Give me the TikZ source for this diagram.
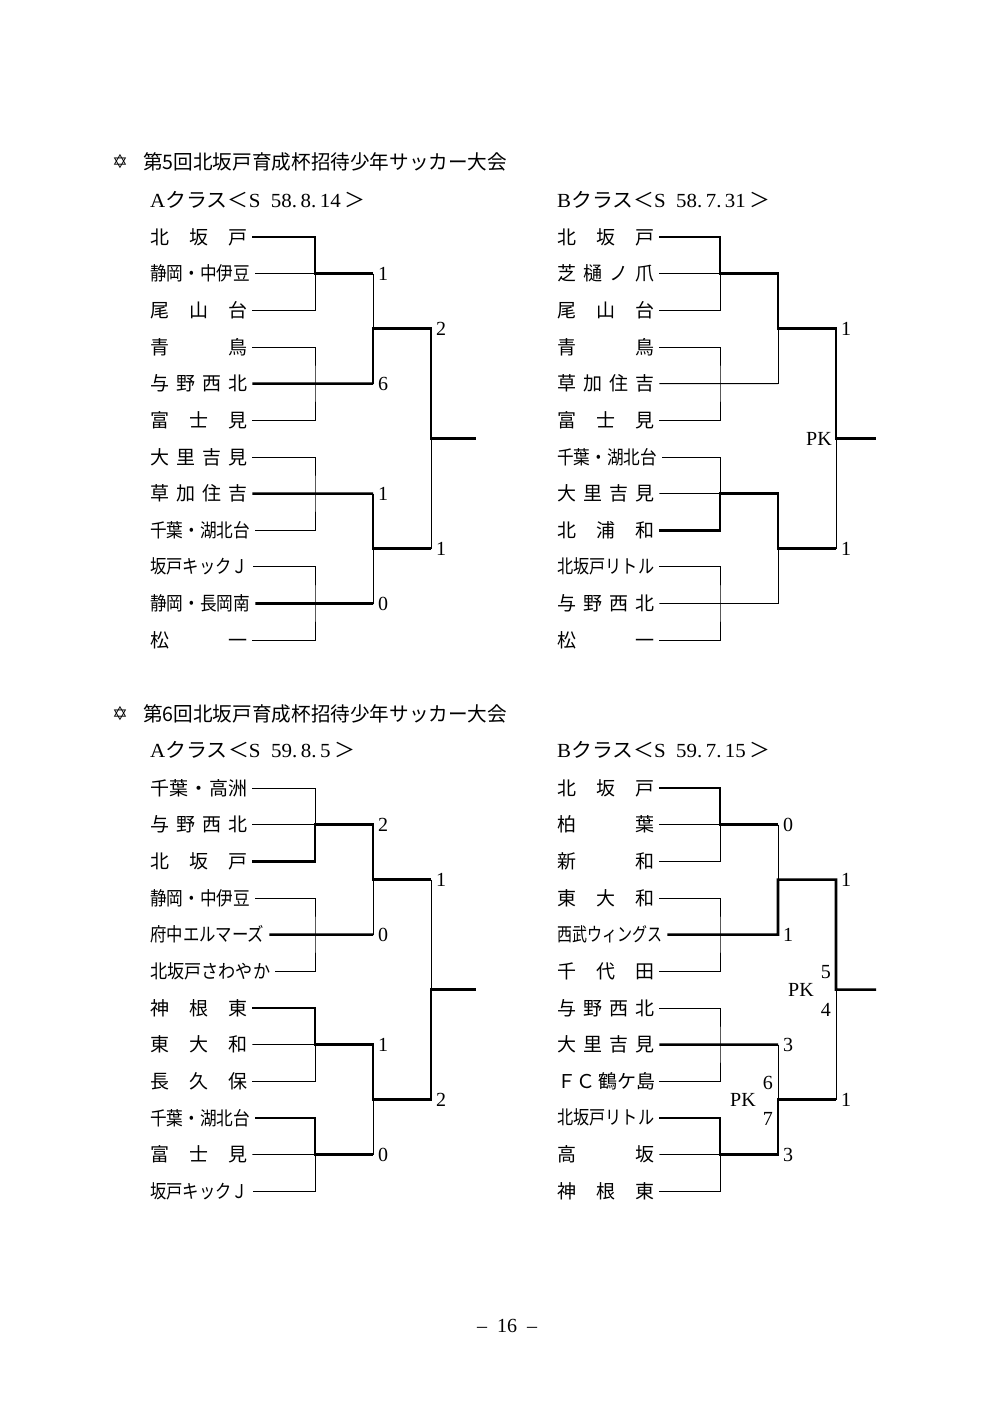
\documentclass[tikz,border=0pt]{standalone}
\usepackage{fontspec}
\usepackage{graphicx}
\setmainfont{Liberation Serif}
\newfontfamily\jp{Noto Sans CJK JP}
\newfontfamily\djv{DejaVu Sans}
\newcommand{\spr}[1]{\makebox[97pt][s]{#1}}
\newcommand{\fitw}[2]{\resizebox{#1}{\height}{#2}}
% block coordinates: #1 prefix, #2 g, #3 s, #4 f, #5 e, #6 first row y
\newcommand{\mkco}[6]{%
  \coordinate (#1g1) at (#2,#6+36.65);
  \coordinate (#1g2) at (#2,#6+146.6);
  \coordinate (#1g3) at (#2,#6+256.55);
  \coordinate (#1g4) at (#2,#6+366.5);
  \coordinate (#1s1) at (#3,#6+36.65);
  \coordinate (#1s2) at (#3,#6+146.6);
  \coordinate (#1s3) at (#3,#6+256.55);
  \coordinate (#1s4) at (#3,#6+366.5);
  \coordinate (#1t) at (#3,#6+91.625);
  \coordinate (#1b) at (#3,#6+311.575);
  \coordinate (#1ft) at (#4,#6+91.625);
  \coordinate (#1fb) at (#4,#6+311.575);
  \coordinate (#1f) at (#4,#6+201.6);
  \coordinate (#1e) at (#5,#6+201.6);
}
\begin{document}
\begin{tikzpicture}[x=1pt,y=-1pt,
  team/.style={anchor=west,inner sep=0pt,font=\jp\fontsize{19}{21}\selectfont},
  sc/.style={anchor=west,inner sep=0pt,font=\fontsize{20}{21}\selectfont},
  pk/.style={anchor=east,inner sep=0pt,font=\fontsize{20}{21}\selectfont},
  hd/.style={anchor=west,inner sep=0pt,font=\fontsize{20}{21}\selectfont},
  thn/.style={line width=0.8pt},
  thk/.style={line width=2.6pt}]
\path[use as bounding box,fill=white] (0,0) rectangle (1000,1408);

% ---------------- headers ----------------
\node[hd] (star1) at (112,162) {\djv\fontsize{19}{20}\selectfont ✡};
\node[hd] (title1) at (143,162) {\jp\fontsize{20}{22}\selectfont\fitw{364pt}{第5回北坂戸育成杯招待少年サッカー大会}};
\node[hd] (clsA5) at (150,200) {\fitw{215pt}{A{\jp クラス＜}S\ \ 58.\,8.\,14\,{\jp ＞}}};
\node[hd] (clsB5) at (557,200) {\fitw{213pt}{B{\jp クラス＜}S\ \ 58.\,7.\,31\,{\jp ＞}}};
\node[hd] (star2) at (112,714) {\djv\fontsize{19}{20}\selectfont ✡};
\node[hd] (title2) at (143,714) {\jp\fontsize{20}{22}\selectfont\fitw{364pt}{第6回北坂戸育成杯招待少年サッカー大会}};
\node[hd] (clsA6) at (150,750) {\fitw{205pt}{A{\jp クラス＜}S\ \ 59.\,8.\,5\,{\jp ＞}}};
\node[hd] (clsB6) at (557,750) {\fitw{213pt}{B{\jp クラス＜}S\ \ 59.\,7.\,15\,{\jp ＞}}};
\node[inner sep=0pt,font=\fontsize{20}{21}\selectfont] (pgno) at (507,1326) {–\ \ 16\ \ –};

% ---------------- coordinates ----------------
\mkco{A5}{315}{373}{431}{476}{237}
\mkco{B5}{720}{778}{836}{876}{237}
\mkco{A6}{315}{373}{431}{476}{788}
\mkco{B6}{720}{778}{836}{876}{788}

% ---------------- A5 teams ----------------
\node[team] (a1) at (150,237+0*36.65) {\spr{北\hfill 坂\hfill 戸}};
\node[team] (a2) at (150,237+1*36.65) {\fitw{100pt}{静岡・中伊豆}};
\node[team] (a3) at (150,237+2*36.65) {\spr{尾\hfill 山\hfill 台}};
\node[team] (a4) at (150,237+3*36.65) {\spr{青\hfill 鳥}};
\node[team] (a5) at (150,237+4*36.65) {\spr{与\hfill 野\hfill 西\hfill 北}};
\node[team] (a6) at (150,237+5*36.65) {\spr{富\hfill 士\hfill 見}};
\node[team] (a7) at (150,237+6*36.65) {\spr{大\hfill 里\hfill 吉\hfill 見}};
\node[team] (a8) at (150,237+7*36.65) {\spr{草\hfill 加\hfill 住\hfill 吉}};
\node[team] (a9) at (150,237+8*36.65) {\fitw{100pt}{千葉・湖北台}};
\node[team] (a10) at (150,237+9*36.65) {\fitw{98pt}{坂戸キックＪ}};
\node[team] (a11) at (150,237+10*36.65) {\fitw{100pt}{静岡・長岡南}};
\node[team] (a12) at (150,237+11*36.65) {\spr{松\hfill 一}};

% ---------------- B5 teams ----------------
\node[team] (b1) at (557,237+0*36.65) {\spr{北\hfill 坂\hfill 戸}};
\node[team] (b2) at (557,237+1*36.65) {\spr{芝\hfill 樋\hfill ノ\hfill 爪}};
\node[team] (b3) at (557,237+2*36.65) {\spr{尾\hfill 山\hfill 台}};
\node[team] (b4) at (557,237+3*36.65) {\spr{青\hfill 鳥}};
\node[team] (b5) at (557,237+4*36.65) {\spr{草\hfill 加\hfill 住\hfill 吉}};
\node[team] (b6) at (557,237+5*36.65) {\spr{富\hfill 士\hfill 見}};
\node[team] (b7) at (557,237+6*36.65) {\fitw{100pt}{千葉・湖北台}};
\node[team] (b8) at (557,237+7*36.65) {\spr{大\hfill 里\hfill 吉\hfill 見}};
\node[team] (b9) at (557,237+8*36.65) {\spr{北\hfill 浦\hfill 和}};
\node[team] (b10) at (557,237+9*36.65) {\fitw{97pt}{北坂戸リトル}};
\node[team] (b11) at (557,237+10*36.65) {\spr{与\hfill 野\hfill 西\hfill 北}};
\node[team] (b12) at (557,237+11*36.65) {\spr{松\hfill 一}};

% ---------------- A6 teams ----------------
\node[team] (c1) at (150,788+0*36.65) {\spr{千葉\hfill ・\hfill 高洲}};
\node[team] (c2) at (150,788+1*36.65) {\spr{与\hfill 野\hfill 西\hfill 北}};
\node[team] (c3) at (150,788+2*36.65) {\spr{北\hfill 坂\hfill 戸}};
\node[team] (c4) at (150,788+3*36.65) {\fitw{100pt}{静岡・中伊豆}};
\node[team] (c5) at (150,788+4*36.65) {\fitw{114pt}{府中エルマーズ}};
\node[team] (c6) at (150,788+5*36.65) {\fitw{120pt}{北坂戸さわやか}};
\node[team] (c7) at (150,788+6*36.65) {\spr{神\hfill 根\hfill 東}};
\node[team] (c8) at (150,788+7*36.65) {\spr{東\hfill 大\hfill 和}};
\node[team] (c9) at (150,788+8*36.65) {\spr{長\hfill 久\hfill 保}};
\node[team] (c10) at (150,788+9*36.65) {\fitw{100pt}{千葉・湖北台}};
\node[team] (c11) at (150,788+10*36.65) {\spr{富\hfill 士\hfill 見}};
\node[team] (c12) at (150,788+11*36.65) {\fitw{98pt}{坂戸キックＪ}};

% ---------------- B6 teams ----------------
\node[team] (d1) at (557,788+0*36.65) {\spr{北\hfill 坂\hfill 戸}};
\node[team] (d2) at (557,788+1*36.65) {\spr{柏\hfill 葉}};
\node[team] (d3) at (557,788+2*36.65) {\spr{新\hfill 和}};
\node[team] (d4) at (557,788+3*36.65) {\spr{東\hfill 大\hfill 和}};
\node[team] (d5) at (557,788+4*36.65) {\fitw{105pt}{西武ウィングス}};
\node[team] (d6) at (557,788+5*36.65) {\spr{千\hfill 代\hfill 田}};
\node[team] (d7) at (557,788+6*36.65) {\spr{与\hfill 野\hfill 西\hfill 北}};
\node[team] (d8) at (557,788+7*36.65) {\spr{大\hfill 里\hfill 吉\hfill 見}};
\node[team] (d9) at (557,788+8*36.65) {\spr{Ｆ\hfill Ｃ\,鶴ケ島}};
\node[team] (d10) at (557,788+9*36.65) {\fitw{97pt}{北坂戸リトル}};
\node[team] (d11) at (557,788+10*36.65) {\spr{高\hfill 坂}};
\node[team] (d12) at (557,788+11*36.65) {\spr{神\hfill 根\hfill 東}};

% ================= A5 lines =================
\draw[thn] ([xshift=5pt]a2.east) -- (A5g1);
\draw[thn] ([xshift=5pt]a3.east) -| (A5g1);
\draw[thn] ([xshift=5pt]a4.east) -| (A5g2) |- ([xshift=5pt]a6.east);
\draw[thn] ([xshift=5pt]a7.east) -| (A5g3) |- ([xshift=5pt]a9.east);
\draw[thn] ([xshift=5pt]a10.east) -| (A5g4) |- ([xshift=5pt]a12.east);
\draw[thn] (A5s1) -- (A5t);
\draw[thn] (A5s4) -- (A5b);
\draw[thn] (A5fb) -- (A5f);
\draw[thk] ([xshift=5pt]a1.east) -| (A5g1) -- (A5s1);
\draw[thk] ([xshift=5pt]a5.east) -- (A5s2);
\draw[thk] ([xshift=5pt]a8.east) -- (A5s3);
\draw[thk] ([xshift=5pt]a11.east) -- (A5s4);
\draw[thk] (A5s2) -- (A5t) -- (A5ft) -- (A5f) -- (A5e);
\draw[thk] (A5s3) -- (A5b) -- (A5fb);
\node[sc] (A5n1) at ([xshift=5pt]A5s1) {1};
\node[sc] (A5n2) at ([xshift=5pt]A5s2) {6};
\node[sc] (A5n3) at ([xshift=5pt]A5s3) {1};
\node[sc] (A5n4) at ([xshift=5pt]A5s4) {0};
\node[sc] (A5n5) at ([xshift=5pt]A5ft) {2};
\node[sc] (A5n6) at ([xshift=5pt]A5fb) {1};

% ================= B5 lines =================
\draw[thn] ([xshift=5pt]b2.east) -- (B5g1);
\draw[thn] ([xshift=5pt]b3.east) -| (B5g1);
\draw[thn] ([xshift=5pt]b4.east) -| (B5g2) |- ([xshift=5pt]b6.east);
\draw[thn] ([xshift=5pt]b5.east) -- (B5s2);
\draw[thn] ([xshift=5pt]b7.east) -| (B5g3);
\draw[thn] ([xshift=5pt]b8.east) -- (B5g3);
\draw[thn] ([xshift=5pt]b10.east) -| (B5g4) |- ([xshift=5pt]b12.east);
\draw[thn] ([xshift=5pt]b11.east) -- (B5s4);
\draw[thn] (B5s2) -- (B5t);
\draw[thn] (B5s4) -- (B5b);
\draw[thn] (B5fb) -- (B5f);
\draw[thk] ([xshift=5pt]b1.east) -| (B5g1) -- (B5s1) -- (B5t) -- (B5ft) -- (B5f) -- (B5e);
\draw[thk] ([xshift=5pt]b9.east) -| (B5g3) -- (B5s3) -- (B5b) -- (B5fb);
\node[sc] (B5n5) at ([xshift=5pt]B5ft) {1};
\node[sc] (B5n6) at ([xshift=5pt]B5fb) {1};
\node[pk] (B5pk) at ([xshift=-4pt]B5f) {PK};

% ================= A6 lines =================
\draw[thn] ([xshift=5pt]c1.east) -| (A6g1);
\draw[thn] ([xshift=5pt]c2.east) -- (A6g1);
\draw[thn] ([xshift=5pt]c4.east) -| (A6g2) |- ([xshift=5pt]c6.east);
\draw[thn] ([xshift=5pt]c8.east) -- (A6g3);
\draw[thn] ([xshift=5pt]c9.east) -| (A6g3);
\draw[thn] ([xshift=5pt]c11.east) -- (A6g4);
\draw[thn] ([xshift=5pt]c12.east) -| (A6g4);
\draw[thn] (A6s2) -- (A6t);
\draw[thn] (A6s4) -- (A6b);
\draw[thn] (A6ft) -- (A6f);
\draw[thk] ([xshift=5pt]c3.east) -| (A6g1) -- (A6s1) -- (A6t) -- (A6ft);
\draw[thk] ([xshift=5pt]c5.east) -- (A6s2);
\draw[thk] ([xshift=5pt]c7.east) -| (A6g3) -- (A6s3) -- (A6b) -- (A6fb) -- (A6f) -- (A6e);
\draw[thk] ([xshift=5pt]c10.east) -| (A6g4) -- (A6s4);
\node[sc] (A6n1) at ([xshift=5pt]A6s1) {2};
\node[sc] (A6n2) at ([xshift=5pt]A6s2) {0};
\node[sc] (A6n3) at ([xshift=5pt]A6s3) {1};
\node[sc] (A6n4) at ([xshift=5pt]A6s4) {0};
\node[sc] (A6n5) at ([xshift=5pt]A6ft) {1};
\node[sc] (A6n6) at ([xshift=5pt]A6fb) {2};

% ================= B6 lines =================
\draw[thn] ([xshift=5pt]d2.east) -- (B6g1);
\draw[thn] ([xshift=5pt]d3.east) -| (B6g1);
\draw[thn] ([xshift=5pt]d4.east) -| (B6g2) |- ([xshift=5pt]d6.east);
\draw[thn] ([xshift=5pt]d7.east) -| (B6g3) |- ([xshift=5pt]d9.east);
\draw[thn] ([xshift=5pt]d11.east) -- (B6g4);
\draw[thn] ([xshift=5pt]d12.east) -| (B6g4);
\draw[thn] (B6s1) -- (B6t);
\draw[thn] (B6s3) -- (B6b);
\draw[thn] (B6fb) -- (B6f);
\draw[thk] ([xshift=5pt]d1.east) -| (B6g1) -- (B6s1);
\draw[thk] ([xshift=5pt]d5.east) -- (B6s2) -- (B6t) -- (B6ft) -- (B6f) -- (B6e);
\draw[thk] ([xshift=5pt]d8.east) -- (B6s3);
\draw[thk] ([xshift=5pt]d10.east) -| (B6g4) -- (B6s4) -- (B6b) -- (B6fb);
\node[sc] (B6n1) at ([xshift=5pt]B6s1) {0};
\node[sc] (B6n2) at ([xshift=5pt]B6s2) {1};
\node[sc] (B6n3) at ([xshift=5pt]B6s3) {3};
\node[sc] (B6n4) at ([xshift=5pt]B6s4) {3};
\node[sc] (B6n5) at ([xshift=5pt]B6ft) {1};
\node[sc] (B6n6) at ([xshift=5pt]B6fb) {1};
\node[pk] (B6p5) at ([shift={(-5pt,18pt)}]B6f) {5};
\node[pk] (B6pk1) at ([xshift=-22pt]B6f) {PK};
\node[pk] (B6p4) at ([shift={(-5pt,-20pt)}]B6f) {4};
\node[pk] (B6p6) at ([shift={(-5pt,17pt)}]B6b) {6};
\node[pk] (B6pk2) at ([xshift=-22pt]B6b) {PK};
\node[pk] (B6p7) at ([shift={(-5pt,-19pt)}]B6b) {7};
\end{tikzpicture}
\end{document}
